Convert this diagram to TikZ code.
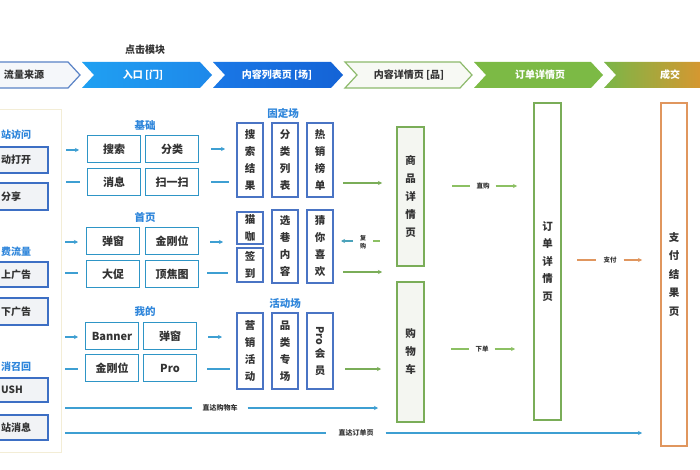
\documentclass[tikz,border=0pt]{standalone}
\usepackage{fontspec}
\setmainfont{Noto Sans CJK SC}
\usepackage{graphicx}
\usetikzlibrary{arrows.meta}
\definecolor{txt}{HTML}{333333}
\definecolor{hblue}{HTML}{2F86DB}
\definecolor{lblue}{HTML}{3D6FC4}
\definecolor{lgray}{HTML}{F1F3F6}
\definecolor{eblue}{HTML}{2E95C6}
\definecolor{sblue}{HTML}{4A74C4}
\definecolor{abl}{HTML}{3E9FD2}
\definecolor{grn}{HTML}{7AAD58}
\definecolor{lgrn}{HTML}{8CC063}
\definecolor{gfill}{HTML}{F4F6F1}
\definecolor{org}{HTML}{E0965E}
\definecolor{panel}{HTML}{F3EDD6}
\definecolor{cOnef}{HTML}{F5F7FA}
\definecolor{cOned}{HTML}{5A83C6}
\definecolor{cTwoa}{HTML}{1FA0F2}
\definecolor{cTwob}{HTML}{1E88EA}
\definecolor{cThra}{HTML}{1A78E6}
\definecolor{cThrb}{HTML}{1463D6}
\definecolor{cFouf}{HTML}{F7F9F4}
\definecolor{cFoud}{HTML}{8DBA6C}
\definecolor{cFiv}{HTML}{7CBA45}
\definecolor{cSixa}{HTML}{7AB648}
\definecolor{cSixb}{HTML}{E8912C}
\newcommand\chevpath[2]{(#1,62) -- ({#2-12},62) -- (#2,75) -- ({#2-12},88) -- (#1,88) -- ({#1+12},75) -- cycle}
\tikzset{
  chtext/.style={font=\fontsize{10}{12}\selectfont\bfseries, inner sep=0},
  lbox/.style={draw=lblue, fill=lgray, line width=1.4pt, minimum width=80pt, inner sep=0},
  ltext/.style={font=\fontsize{10}{12}\selectfont\bfseries, text=txt, inner sep=0, anchor=west},
  lhead/.style={font=\fontsize{10}{12}\selectfont\bfseries, text=hblue, inner sep=0, anchor=west},
  ghead/.style={font=\fontsize{10.5}{12}\selectfont\bfseries, text=hblue, inner sep=0},
  ebox/.style={draw=eblue, fill=white, line width=1.4pt, minimum width=53pt, minimum height=27pt, inner sep=0, font=\fontsize{11}{13}\selectfont\bfseries, text=txt},
  sbox/.style={draw=sblue, fill=white, line width=1.4pt, minimum width=26pt, inner sep=0, align=center, font=\fontsize{10.5}{17}\selectfont\bfseries, text=txt},
  gbox/.style={draw=grn, fill=gfill, line width=1.4pt, minimum width=27pt, inner sep=0, align=center, font=\fontsize{10.5}{18}\selectfont\bfseries, text=txt},
  barrow/.style={draw=abl, line width=1.3pt, -{Stealth[length=4pt,width=4pt]}},
  bline/.style={draw=abl, line width=1.3pt},
  garrow/.style={draw=grn, line width=1.3pt, -{Stealth[length=4pt,width=4pt]}},
  gline/.style={draw=lgrn, line width=1.3pt},
  slab/.style={font=\fontsize{6.5}{8}\selectfont\bfseries, text=txt, inner sep=0},
  longline/.style={draw=abl, line width=1.6pt},
}
\begin{document}
\begin{tikzpicture}[x=1pt,y=-1pt]
\useasboundingbox (0,0) rectangle (700,470);
\clip (0,0) rectangle (700,470);
\fill[white] (0,0) rectangle (700,470);

% ---------- top banner ----------
\node[chtext, text=txt] (click) at (145,50) {点击模块};
\path[fill=cOnef, draw=cOned, line width=1.2pt] \chevpath{-20}{80};
\path[left color=cTwoa, right color=cTwob] \chevpath{82}{212};
\path[left color=cThra, right color=cThrb] \chevpath{213}{343};
\path[fill=cFouf, draw=cFoud, line width=1.2pt] \chevpath{345}{472};
\path[fill=cFiv] \chevpath{474}{603};
\path[left color=cSixa, right color=cSixb] \chevpath{604}{720};
\node[chtext, text=txt] (h1) at (24,75) {流量来源};
\node[chtext, text=white] (h2) at (143,75) {入口 [门]};
\node[chtext, text=white] (h3) at (277,75) {内容列表页 [场]};
\node[chtext, text=txt] (h4) at (409,75) {内容详情页 [品]};
\node[chtext, text=white] (h5) at (540,75) {订单详情页};
\node[chtext, text=white] (h6) at (670,75) {成交};

% ---------- left panel ----------
\draw[panel, line width=1pt] (-10,110) rectangle (61,452);
\node[lhead] (lh1) at (1,135) {站访问};
\node[lbox, minimum height=26pt] (lb1) at (8,160) {};
\node[ltext] (lt1) at (1,160) {动打开};
\node[lbox, minimum height=27pt] (lb2) at (8,196.5) {};
\node[ltext] (lt2) at (1,196.5) {分享};
\node[lhead] (lh2) at (1,252) {费流量};
\node[lbox, minimum height=25pt] (lb3) at (8,274.5) {};
\node[ltext] (lt3) at (1,274.5) {上广告};
\node[lbox, minimum height=27pt] (lb4) at (8,311.5) {};
\node[ltext] (lt4) at (1,311.5) {下广告};
\node[lhead] (lh3) at (1,367) {消召回};
\node[lbox, minimum height=24pt] (lb5) at (8,390) {};
\node[ltext] (lt5) at (1,390) {USH};
\node[lbox, minimum height=25pt] (lb6) at (8,427.5) {};
\node[ltext] (lt6) at (1,427.5) {站消息};

% arrows left panel -> entries
\coordinate (la1) at (66,150); \coordinate (lb1e) at (79,150);
\coordinate (la2) at (66,182); \coordinate (lb2e) at (80,182);
\coordinate (la3) at (65,242); \coordinate (lb3e) at (78,242);
\coordinate (la4) at (65,273); \coordinate (lb4e) at (78,273);
\coordinate (la5) at (65,337); \coordinate (lb5e) at (78,337);
\coordinate (la6) at (65,369); \coordinate (lb6e) at (78,369);
\draw[barrow] (la1) -- (lb1e);
\draw[bline] (la2) -- (lb2e);
\draw[barrow] (la3) -- (lb3e);
\draw[bline] (la4) -- (lb4e);
\draw[barrow] (la5) -- (lb5e);
\draw[bline] (la6) -- (lb6e);

% ---------- entries ----------
\node[ghead] (g1) at (145,126) {基础};
\node[ebox] (e1) at (114,149) {搜索};
\node[ebox] (e2) at (172,149) {分类};
\node[ebox] (e3) at (114,182) {消息};
\node[ebox] (e4) at (172,182) {扫一扫};
\node[ghead] (g2) at (145,217) {首页};
\node[ebox] (e5) at (113,241) {弹窗};
\node[ebox] (e6) at (172,241) {金刚位};
\node[ebox] (e7) at (113,274) {大促};
\node[ebox] (e8) at (172,274) {顶焦图};
\node[ghead] (g3) at (145,312) {我的};
\node[ebox] (e9) at (112,336) {Banner};
\node[ebox] (e10) at (170,336) {弹窗};
\node[ebox] (e11) at (112,368) {金刚位};
\node[ebox] (e12) at (170,368) {Pro};

% arrows entries -> list
\coordinate (ra1) at (211,149); \coordinate (rb1) at (225,149);
\coordinate (ra2) at (211,182); \coordinate (rb2) at (229,182);
\coordinate (ra3) at (210,242); \coordinate (rb3) at (223,242);
\coordinate (ra4) at (207,273); \coordinate (rb4) at (228,273);
\coordinate (ra5) at (208,337); \coordinate (rb5) at (222,337);
\coordinate (ra6) at (207,369); \coordinate (rb6) at (230,369);
\draw[barrow] (ra1) -- (rb1);
\draw[bline] (ra2) -- (rb2);
\draw[barrow] (ra3) -- (rb3);
\draw[bline] (ra4) -- (rb4);
\draw[barrow] (ra5) -- (rb5);
\draw[bline] (ra6) -- (rb6);

% ---------- list pages ----------
\node[ghead] (g4) at (283,113) {固定场};
\node[sbox, minimum height=74pt] (s1) at (250,160) {搜\\索\\结\\果};
\node[sbox, minimum height=74pt] (s2) at (285,160) {分\\类\\列\\表};
\node[sbox, minimum height=74pt] (s3) at (320,160) {热\\销\\榜\\单};
\node[sbox, minimum height=32pt] (s4) at (250,228) {猫\\咖};
\node[sbox, minimum height=34pt] (s5) at (250,265) {签\\到};
\node[sbox, minimum height=73pt] (s6) at (285,246.5) {选\\巷\\内\\容};
\node[sbox, minimum height=73pt] (s7) at (320,246.5) {猜\\你\\喜\\欢};
\node[ghead] (g5) at (285,303) {活动场};
\node[sbox, minimum height=76pt] (s8) at (250,351) {营\\销\\活\\动};
\node[sbox, minimum height=76pt] (s9) at (285,351) {品\\类\\专\\场};
\node[sbox, minimum height=76pt] (s10) at (320,351) {\raisebox{-2pt}{\rotatebox[origin=c]{-90}{Pro}}\\[3pt]会\\员};

% arrows list -> detail
\coordinate (ga1) at (343,183); \coordinate (gb1) at (382,183);
\coordinate (ga2) at (343,272); \coordinate (gb2) at (382,272);
\coordinate (ga3) at (345,369); \coordinate (gb3) at (381,369);
\draw[garrow] (ga1) -- (gb1);
\draw[garrow] (ga2) -- (gb2);
\draw[garrow] (ga3) -- (gb3);
% repurchase
\node[slab, align=center, font=\fontsize{6}{8}\selectfont\bfseries] (fg) at (363,242) {复\\购};
\coordinate (fga) at (373,241); \coordinate (fgb) at (380,241);
\coordinate (fgc) at (353,241); \coordinate (fgd) at (341,241);
\draw[gline] (fga) -- (fgb);
\draw[barrow, draw=abl!80!grn] (fgc) -- (fgd);

% ---------- detail ----------
\node[gbox, minimum height=139pt] (d1) at (410.5,196.5) {商\\品\\详\\情\\页};
\node[gbox, minimum height=140pt] (d2) at (410.5,352) {购\\物\\车};

% direct buy / place order
\node[slab] (zg) at (483,186) {直购};
\coordinate (zga) at (452,186); \coordinate (zgb) at (517,186);
\draw[gline] (zga) -- ([xshift=-6pt]zg.west);
\draw[gline, -{Stealth[length=4pt,width=4pt]}] ([xshift=6pt]zg.east) -- (zgb);
\node[slab] (xd) at (482,349) {下单};
\coordinate (xda) at (451,349); \coordinate (xdb) at (515,349);
\draw[gline] (xda) -- ([xshift=-6pt]xd.west);
\draw[gline, -{Stealth[length=4pt,width=4pt]}] ([xshift=6pt]xd.east) -- (xdb);

% ---------- order ----------
\node[gbox, fill=white, minimum height=317pt, font=\fontsize{10.5}{17.5}\selectfont\bfseries] (o1) at (547.5,261.5) {订\\单\\详\\情\\页};

% pay
\node[slab] (zf) at (610,260) {支付};
\coordinate (zfa) at (577,260); \coordinate (zfb) at (642,260);
\draw[org, line width=1.3pt] (zfa) -- ([xshift=-7pt]zf.west);
\draw[org, line width=1.3pt, -{Stealth[length=4pt,width=4pt]}] ([xshift=7pt]zf.east) -- (zfb);

\node[gbox, draw=org, fill=white, minimum width=26pt, minimum height=343pt, font=\fontsize{10.5}{18.5}\selectfont\bfseries] (p1) at (674,274.5) {支\\付\\结\\果\\页};

% ---------- long direct lines ----------
\node[slab, font=\fontsize{7}{8}\selectfont\bfseries] (dc) at (220,408) {直达购物车};
\coordinate (dca) at (65,408); \coordinate (dcb) at (378,408);
\draw[longline] (dca) -- ([xshift=-10pt]dc.west);
\draw[longline, -{Stealth[length=4pt,width=4pt]}] ([xshift=10pt]dc.east) -- (dcb);
\node[slab, font=\fontsize{7}{8}\selectfont\bfseries] (do) at (356,433) {直达订单页};
\coordinate (doa) at (65,433); \coordinate (dob) at (642,433);
\draw[longline] (doa) -- ([xshift=-12pt]do.west);
\draw[longline, -{Stealth[length=4pt,width=4pt]}] ([xshift=12pt]do.east) -- (dob);
\end{tikzpicture}
\end{document}
